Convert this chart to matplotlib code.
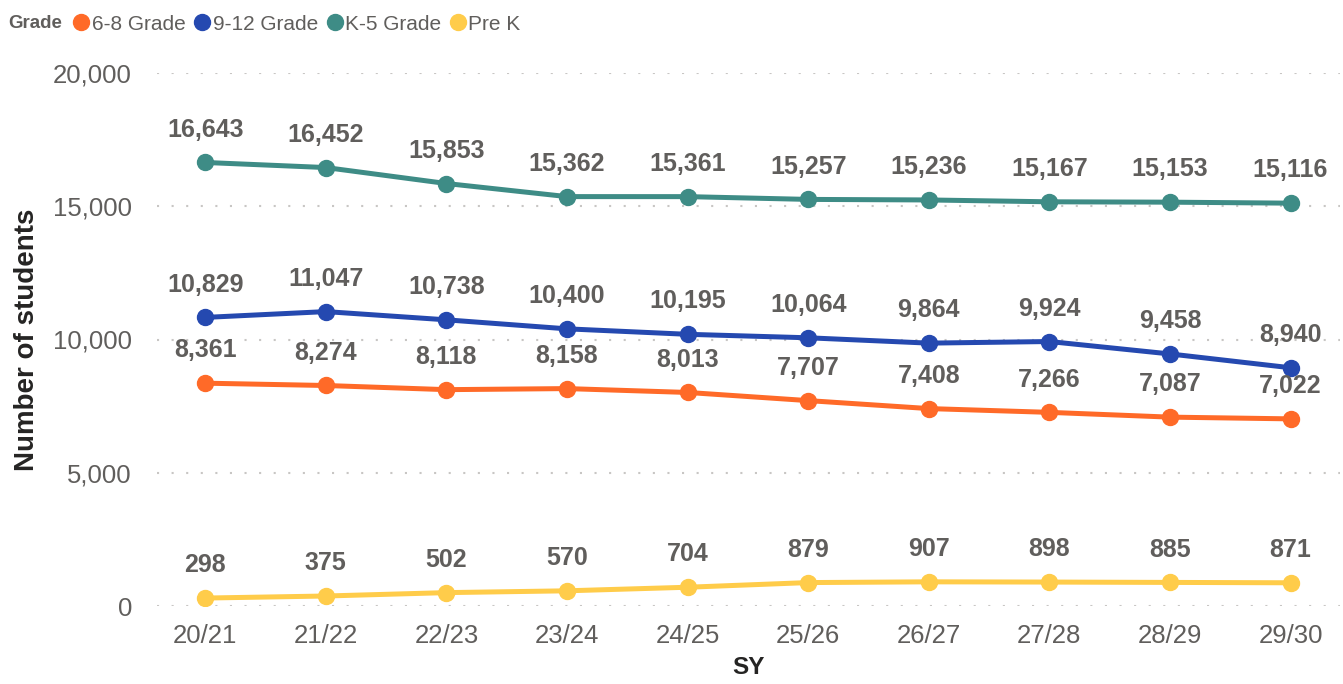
import matplotlib
matplotlib.use("Agg")
import matplotlib.pyplot as plt
from matplotlib.lines import Line2D
from matplotlib.ticker import FuncFormatter

plt.rcParams['font.family'] = ['Liberation Sans', 'DejaVu Sans']

years = ["20/21", "21/22", "22/23", "23/24", "24/25", "25/26", "26/27", "27/28", "28/29", "29/30"]
grade_6_8 = [8361, 8274, 8118, 8158, 8013, 7707, 7408, 7266, 7087, 7022]
grade_9_12 = [10829, 11047, 10738, 10400, 10195, 10064, 9864, 9924, 9458, 8940]
grade_k_5 = [16643, 16452, 15853, 15362, 15361, 15257, 15236, 15167, 15153, 15116]
pre_k = [298, 375, 502, 570, 704, 879, 907, 898, 885, 871]

series = [
    ("6-8 Grade", grade_6_8, "#FF6A28"),
    ("9-12 Grade", grade_9_12, "#2549B0"),
    ("K-5 Grade", grade_k_5, "#3E8C86"),
    ("Pre K", pre_k, "#FFCC4A"),
]
yticks = [0, 5000, 10000, 15000, 20000]

fig = plt.figure(figsize=(13.43, 6.84), dpi=100)
ax = fig.add_axes([157/1343, 1-606/684, (1340-157)/1343, (606-73)/684])

x = list(range(len(years)))
label_color = "#605E5C"
for name, vals, col in series:
    ax.plot(x, vals, color=col, lw=3.6, marker='o', markersize=11.5,
            solid_capstyle='round', zorder=3, label=name)
    for xi, v in zip(x, vals):
        ax.annotate(f"{v:,}", (xi, v), xytext=(0, 15), textcoords='offset points',
                    ha='center', va='bottom', fontsize=18, fontweight='bold',
                    color=label_color, zorder=4)

ax.set_ylim(0, 20000)
ax.set_xlim(-0.4, 9.41)
ax.set_yticks(yticks)
ax.yaxis.set_major_formatter(FuncFormatter(lambda v, p: f"{int(v):,}"))
ax.set_xticks(x)
ax.set_xticklabels(years)
ax.tick_params(axis='both', length=0, labelsize=18.5, colors=label_color)
ax.tick_params(axis='y', pad=18)
ax.tick_params(axis='x', pad=13)
ax.grid(axis='y', color='#C8C6C4', linestyle=(0, (1, 6)), lw=1.5, zorder=0)
for s in ax.spines.values():
    s.set_visible(False)

ax.set_ylabel("Number of students", fontsize=20, fontweight='bold', color='#252423')
ax.set_xlabel("SY", fontsize=17.5, fontweight='bold', color='#252423', labelpad=6)
ax.yaxis.set_label_coords(-0.099, 0.5)

fig.text(8/1343, 1-23/684, "Grade", fontsize=13.5, fontweight='bold', color=label_color,
         ha='left', va='center')
handles = [Line2D([], [], color=col, marker='o', linestyle='none', markersize=11.5) for _, _, col in series]
fig.legend(handles, [s[0] for s in series], loc='center left',
           bbox_to_anchor=(72/1343, 1-24/684), ncol=4, frameon=False,
           fontsize=15, handlelength=0.9, handletextpad=0.05, columnspacing=0.35,
           labelcolor=label_color, borderaxespad=0, borderpad=0)

fig.savefig("out.png", dpi=100)
